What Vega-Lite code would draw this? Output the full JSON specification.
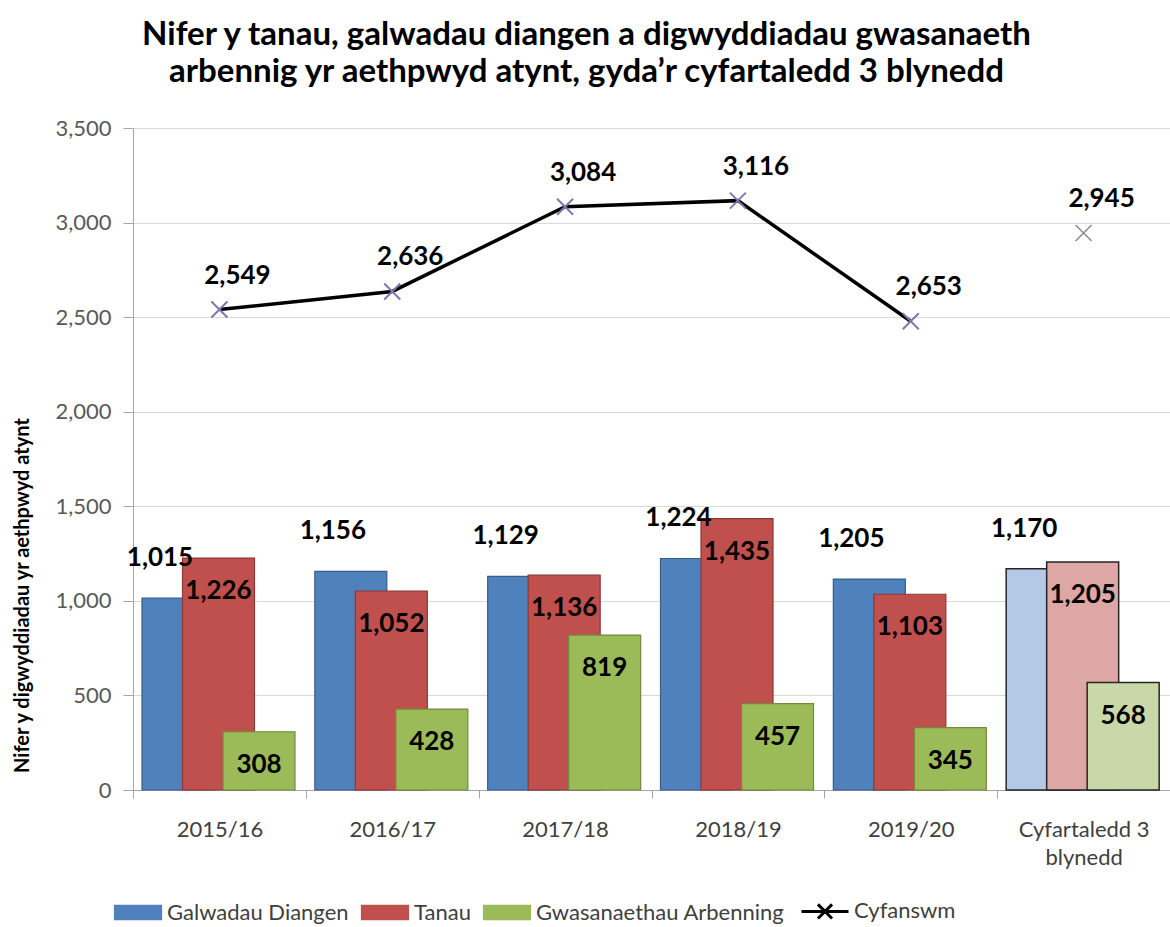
{
  "$schema": "https://vega.github.io/schema/vega-lite/v6.json",
  "width": 1037,
  "height": 662,
  "autosize": {"type": "none"},
  "padding": {"left": 133, "top": 128, "right": 0, "bottom": 137},
  "background": "white",
  "title": {
    "text": ["Nifer y tanau, galwadau diangen a digwyddiadau gwasanaeth", "arbennig yr aethpwyd atynt, gyda’r cyfartaledd 3 blynedd"],
    "font": "Lato",
    "fontSize": 33,
    "fontWeight": "bold",
    "color": "#000000",
    "anchor": "middle",
    "frame": "group",
    "dx": -65,
    "offset": 28,
    "lineHeight": 37
  },
  "datasets": {
    "bars": [
      {"cat": "2015/16", "series": "Galwadau Diangen", "value": 1015, "label": 1015},
      {"cat": "2015/16", "series": "Tanau", "value": 1226, "label": 1226},
      {"cat": "2015/16", "series": "Gwasanaethau Arbenning", "value": 308, "label": 308},
      {"cat": "2016/17", "series": "Galwadau Diangen", "value": 1156, "label": 1156},
      {"cat": "2016/17", "series": "Tanau", "value": 1052, "label": 1052},
      {"cat": "2016/17", "series": "Gwasanaethau Arbenning", "value": 428, "label": 428},
      {"cat": "2017/18", "series": "Galwadau Diangen", "value": 1129, "label": 1129},
      {"cat": "2017/18", "series": "Tanau", "value": 1136, "label": 1136},
      {"cat": "2017/18", "series": "Gwasanaethau Arbenning", "value": 819, "label": 819},
      {"cat": "2018/19", "series": "Galwadau Diangen", "value": 1224, "label": 1224},
      {"cat": "2018/19", "series": "Tanau", "value": 1435, "label": 1435},
      {"cat": "2018/19", "series": "Gwasanaethau Arbenning", "value": 457, "label": 457},
      {"cat": "2019/20", "series": "Galwadau Diangen", "value": 1115, "label": 1205},
      {"cat": "2019/20", "series": "Tanau", "value": 1035, "label": 1103},
      {"cat": "2019/20", "series": "Gwasanaethau Arbenning", "value": 330, "label": 345},
      {"cat": "Cyfartaledd 3 blynedd", "series": "Galwadau Diangen", "value": 1170, "label": 1170},
      {"cat": "Cyfartaledd 3 blynedd", "series": "Tanau", "value": 1205, "label": 1205},
      {"cat": "Cyfartaledd 3 blynedd", "series": "Gwasanaethau Arbenning", "value": 568, "label": 568}
    ],
    "totals": [
      {"cat": "2015/16", "series": "Cyfanswm", "value": 2540, "label": 2549},
      {"cat": "2016/17", "series": "Cyfanswm", "value": 2636, "label": 2636},
      {"cat": "2017/18", "series": "Cyfanswm", "value": 3084, "label": 3084},
      {"cat": "2018/19", "series": "Cyfanswm", "value": 3116, "label": 3116},
      {"cat": "2019/20", "series": "Cyfanswm", "value": 2478, "label": 2653},
      {"cat": "Cyfartaledd 3 blynedd", "series": "Cyfanswm", "value": 2945, "label": 2945}
    ]
  },
  "encoding": {
    "x": {
      "field": "cat",
      "type": "nominal",
      "scale": {"domain": ["2015/16", "2016/17", "2017/18", "2018/19", "2019/20", "Cyfartaledd 3 blynedd"], "paddingInner": 0, "paddingOuter": 0},
      "axis": {
        "title": null,
        "labelAngle": 0,
        "labelFont": "Lato",
        "labelFontSize": 22,
        "labelColor": "#404040",
        "labelPadding": 21,
        "labelLineHeight": 28,
        "labelExpr": "datum.label == 'Cyfartaledd 3 blynedd' ? ['Cyfartaledd 3', 'blynedd'] : datum.label",
        "tickBand": "extent",
        "tickSize": 8,
        "tickColor": "#A6A6A6",
        "domainColor": "#A6A6A6",
        "grid": false
      }
    },
    "y": {
      "field": "value",
      "type": "quantitative",
      "scale": {"domain": [0, 3500], "nice": false},
      "axis": {
        "values": [0, 500, 1000, 1500, 2000, 2500, 3000, 3500],
        "format": ",.0f",
        "title": "Nifer y digwyddiadau yr aethpwyd atynt",
        "titleFont": "Lato",
        "titleFontSize": 20,
        "titleFontWeight": "bold",
        "titleColor": "#000000",
        "titleX": -111,
        "titleY": 467,
        "titleAlign": "center",
        "titleBaseline": "middle",
        "labelFont": "Lato",
        "labelFontSize": 22,
        "labelColor": "#595959",
        "labelPadding": 12,
        "tickSize": 10,
        "tickColor": "#A6A6A6",
        "domainColor": "#A6A6A6",
        "grid": true,
        "gridColor": "#D9D9D9"
      }
    }
  },
  "layer": [
    {
      "data": {"name": "bars"},
      "transform": [{"filter": "datum.cat != 'Cyfartaledd 3 blynedd'"}],
      "mark": {"type": "bar", "width": 72, "strokeWidth": 1.2},
      "encoding": {
        "xOffset": {"field": "series", "type": "nominal", "scale": {"type": "point", "domain": ["Galwadau Diangen", "Tanau", "Gwasanaethau Arbenning"], "range": [45, 126], "padding": 0}},
        "color": {
          "field": "series",
          "type": "nominal",
          "scale": {"domain": ["Galwadau Diangen", "Tanau", "Gwasanaethau Arbenning", "Cyfanswm"], "range": ["#4F81BD", "#C0504D", "#9BBB59", "#000000"]},
          "legend": {
            "title": null,
            "orient": "none",
            "legendX": -6,
            "legendY": 772,
            "direction": "horizontal",
            "columns": 4,
            "symbolSize": 2209,
            "symbolType": "M-1,-0.3H1V0.3H-1Z",
            "labelFont": "Lato",
            "labelFontSize": 22,
            "labelColor": "#404040",
            "labelOffset": 18,
            "labelLimit": 400,
            "columnPadding": 10,
            "encode": {
              "symbols": {
                "update": {
                  "shape": {"signal": "datum.value === 'Cyfanswm' ? 'M-1,0H1M-0.3,-0.3L0.3,0.3M-0.3,0.3L0.3,-0.3' : 'M-1,-0.3H1V0.3H-1Z'"},
                  "fill": {"signal": "datum.value === 'Galwadau Diangen' ? '#4F81BD' : datum.value === 'Tanau' ? '#C0504D' : datum.value === 'Gwasanaethau Arbenning' ? '#9BBB59' : 'transparent'"},
                  "stroke": {"signal": "datum.value === 'Galwadau Diangen' ? '#385D8A' : datum.value === 'Tanau' ? '#8C3836' : datum.value === 'Gwasanaethau Arbenning' ? '#71893F' : '#000000'"},
                  "strokeWidth": {"signal": "datum.value === 'Cyfanswm' ? 3 : 1.2"},
                  "opacity": {"value": 1}
                }
              }
            }
          }
        },
        "stroke": {
          "field": "series",
          "type": "nominal",
          "scale": {"domain": ["Galwadau Diangen", "Tanau", "Gwasanaethau Arbenning"], "range": ["#385D8A", "#8C3836", "#71893F"]},
          "legend": null
        }
      }
    },
    {
      "data": {"name": "bars"},
      "transform": [{"filter": "datum.cat == 'Cyfartaledd 3 blynedd'"}],
      "mark": {"type": "bar", "width": 72, "stroke": "#262626", "strokeWidth": 1.5},
      "encoding": {
        "xOffset": {"field": "series", "type": "nominal", "scale": {"type": "point", "domain": ["Galwadau Diangen", "Tanau", "Gwasanaethau Arbenning"], "range": [45, 126], "padding": 0}},
        "fill": {
          "field": "series",
          "type": "nominal",
          "scale": {"domain": ["Galwadau Diangen", "Tanau", "Gwasanaethau Arbenning"], "range": ["#B4C9E6", "#DCA7A5", "#C9D8A8"]},
          "legend": null
        }
      }
    },
    {
      "data": {"name": "totals"},
      "transform": [{"filter": "datum.cat != 'Cyfartaledd 3 blynedd'"}],
      "mark": {"type": "line", "strokeWidth": 3.5},
      "encoding": {
        "color": {"field": "series", "type": "nominal"}
      }
    },
    {
      "data": {"name": "totals"},
      "transform": [{"filter": "datum.cat != 'Cyfartaledd 3 blynedd'"}],
      "mark": {"type": "point", "shape": "M-1,-1L1,1M-1,1L1,-1", "size": 256, "stroke": "#7D78AE", "strokeWidth": 2, "filled": false, "opacity": 1},
      "encoding": {}
    },
    {
      "data": {"name": "totals"},
      "transform": [{"filter": "datum.cat == 'Cyfartaledd 3 blynedd'"}],
      "mark": {"type": "point", "shape": "M-1,-1L1,1M-1,1L1,-1", "size": 256, "stroke": "#8A8A8A", "strokeWidth": 1.5, "filled": false, "opacity": 1},
      "encoding": {}
    },
    {
      "data": {"name": "totals"},
      "mark": {"type": "text", "font": "Lato", "fontSize": 26, "fontWeight": "bold", "color": "#000000", "dx": 18, "dy": -34, "baseline": "middle"},
      "encoding": {
        "text": {"field": "label", "type": "quantitative", "format": ",.0f"}
      }
    },
    {
      "data": {"name": "bars"},
      "transform": [{"filter": "datum.series == 'Galwadau Diangen'"}],
      "mark": {"type": "text", "font": "Lato", "fontSize": 26, "fontWeight": "bold", "color": "#000000", "dx": -18, "dy": -40, "baseline": "middle"},
      "encoding": {
        "xOffset": {"field": "series", "type": "nominal", "scale": {"type": "point", "domain": ["Galwadau Diangen", "Tanau", "Gwasanaethau Arbenning"], "range": [45, 126], "padding": 0}},
        "text": {"field": "label", "type": "quantitative", "format": ",.0f"}
      }
    },
    {
      "data": {"name": "bars"},
      "transform": [{"filter": "datum.series != 'Galwadau Diangen'"}],
      "mark": {"type": "text", "font": "Lato", "fontSize": 26, "fontWeight": "bold", "color": "#000000", "dy": 33, "baseline": "middle"},
      "encoding": {
        "xOffset": {"field": "series", "type": "nominal", "scale": {"type": "point", "domain": ["Galwadau Diangen", "Tanau", "Gwasanaethau Arbenning"], "range": [45, 126], "padding": 0}},
        "text": {"field": "label", "type": "quantitative", "format": ",.0f"}
      }
    }
  ],
  "config": {
    "view": {"stroke": null}
  }
}
